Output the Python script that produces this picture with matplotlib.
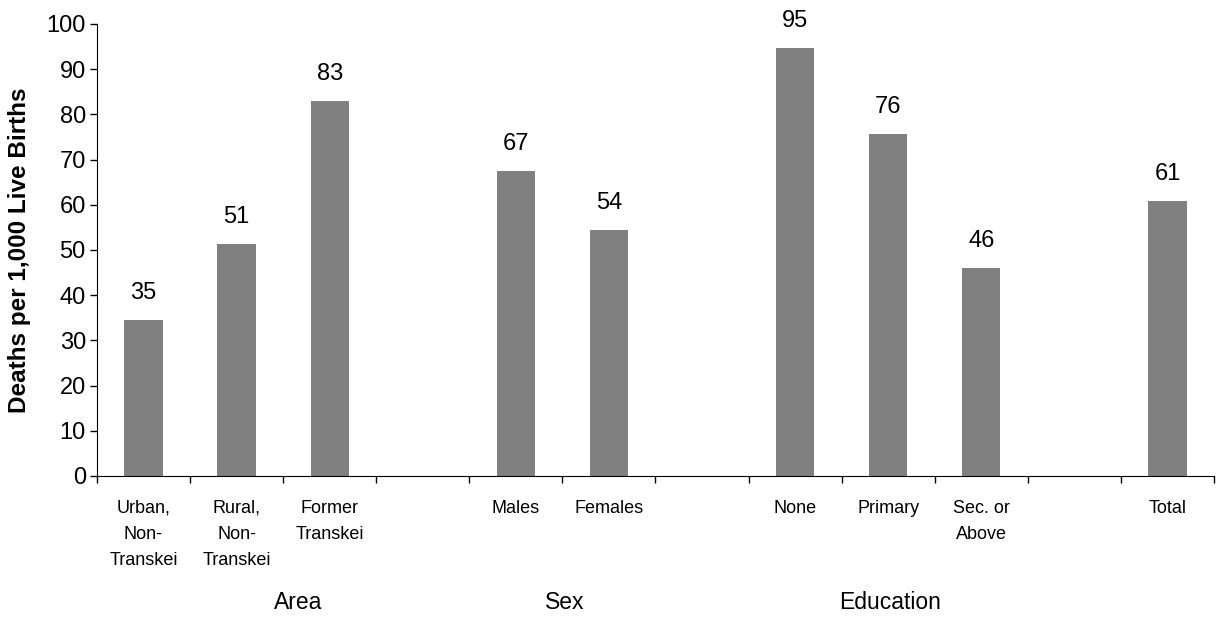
import numpy as np
import matplotlib.pyplot as plt

plt.rcParams['font.family'] = ['Liberation Sans', 'DejaVu Sans']

# infant mortality by background characteristic (empty slots separate the groups)
categories = ['Urban,\nNon-\nTranskei', 'Rural,\nNon-\nTranskei', 'Former\nTranskei', '',
              'Males', 'Females', '',
              'None', 'Primary', 'Sec. or\nAbove', '',
              'Total']
rates = [34.6, 51.3, 83.0, None,
         67.4, 54.4, None,
         94.7, 75.7, 46.0, None,
         60.8]
groups = ['Area', 'Sex', 'Education']
group_pos = [1.66, 4.53, 8.02]

fig = plt.figure(figsize=(12.18, 6.18), dpi=100)
ax = fig.add_axes([0.0796, 0.2298, 0.9171, 0.7314])

x = np.arange(len(categories))
for xi, v in zip(x, rates):
    if v is None:
        continue
    ax.bar(xi, v, width=0.41, color='#808080')
    ax.annotate(f'{v:.0f}', (xi, v), xytext=(0, 15), textcoords='offset points',
                ha='center', va='baseline', fontsize=17)

ax.set_xlim(-0.5, len(categories) - 0.5)
ax.set_ylim(0, 100)
ax.set_yticks(np.arange(0, 101, 10))
ax.tick_params(axis='y', labelsize=17, length=5, width=1, pad=3)

# tick marks sit between the categories, labels in the middle of each slot
ax.set_xticks(np.arange(-0.5, len(categories), 1.0))
ax.set_xticklabels([])
ax.tick_params(axis='x', which='major', length=5, width=1, direction='out')
ax.set_xticks(x, minor=True)
ax.set_xticklabels(categories, minor=True, fontsize=13, linespacing=1.72, va='top')
ax.tick_params(axis='x', which='minor', length=0, pad=17)

for gx, g in zip(group_pos, groups):
    ax.text(gx, -0.281, g, transform=ax.get_xaxis_transform(),
            ha='center', va='center', fontsize=16.5)

ax.set_ylabel('Deaths per 1,000 Live Births', fontsize=17.5, fontweight='bold',
              va='center')
ax.yaxis.set_label_coords(-0.0692, 0.5)

for s in ['top', 'right']:
    ax.spines[s].set_visible(False)
ax.spines['left'].set_color('#000000')
ax.spines['bottom'].set_color('#000000')

fig.savefig('out.png', dpi=100)
